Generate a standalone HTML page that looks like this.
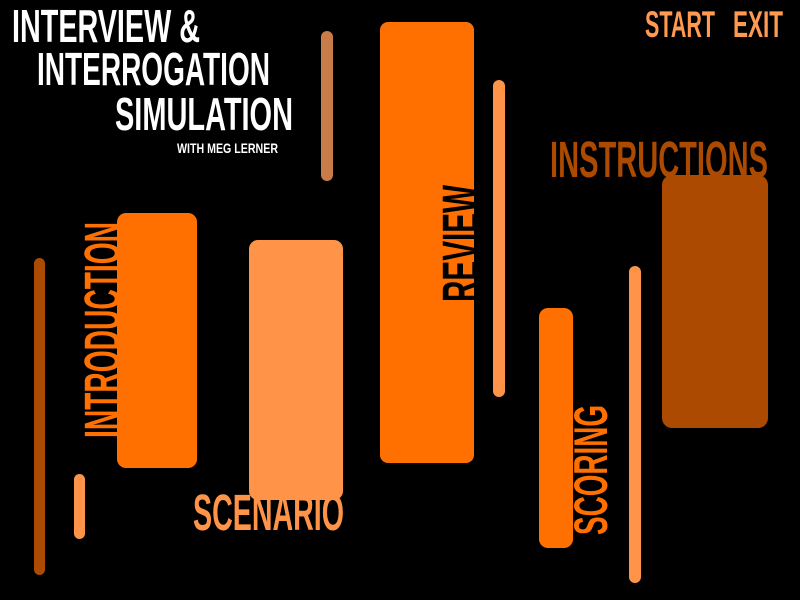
<!DOCTYPE html>
<html><head><meta charset="utf-8"><style>
html,body{margin:0;padding:0;background:#000;width:800px;height:600px;overflow:hidden}
svg{display:block}
text{font-family:"Liberation Sans Narrow","Liberation Sans",sans-serif;}
</style></head><body>
<svg width="800" height="600" viewBox="0 0 800 600" xmlns="http://www.w3.org/2000/svg">
<rect width="800" height="600" fill="#000"/>
<!-- bars -->
<rect x="321" y="31" width="12" height="150" rx="6" fill="#c87c4a"/>
<rect x="493" y="80" width="12" height="317" rx="6" fill="#ff9448"/>
<rect x="34" y="258" width="11" height="317" rx="5.5" fill="#ab4a00"/>
<rect x="74" y="474" width="11" height="65" rx="5.5" fill="#ff9448"/>
<rect x="629" y="266" width="12" height="317" rx="6" fill="#ff9448"/>
<!-- boxes -->
<rect x="380" y="22" width="94" height="441" rx="8" fill="#ff7000"/>
<rect x="662" y="175" width="106" height="253" rx="10" fill="#ab4a00"/>
<rect x="117" y="213" width="80" height="255" rx="9" fill="#ff7000"/>
<rect x="249" y="240" width="94" height="260" rx="9" fill="#ff9448"/>
<rect x="539" y="308" width="34" height="240" rx="9" fill="#ff7000"/>
<!-- title -->
<g fill="#fff" font-weight="bold">
<text x="12" y="42" font-size="46" textLength="188" lengthAdjust="spacingAndGlyphs">INTERVIEW &amp;</text>
<text x="37" y="85" font-size="46" textLength="233" lengthAdjust="spacingAndGlyphs">INTERROGATION</text>
<text x="115" y="130" font-size="46" textLength="178" lengthAdjust="spacingAndGlyphs">SIMULATION</text>
<text x="177" y="153" font-size="14" textLength="101" lengthAdjust="spacingAndGlyphs">WITH MEG LERNER</text>
</g>
<g font-weight="bold">
<text x="645" y="37" font-size="37" fill="#ff9a50" textLength="70" lengthAdjust="spacingAndGlyphs">START</text>
<text x="733" y="37" font-size="37" fill="#ff9a50" textLength="50" lengthAdjust="spacingAndGlyphs">EXIT</text>
<text x="550" y="177" font-size="51" fill="#ab4a00" textLength="218" lengthAdjust="spacingAndGlyphs">INSTRUCTIONS</text>
<text x="193" y="530" font-size="51" fill="#ff9448" textLength="151" lengthAdjust="spacingAndGlyphs">SCENARIO</text>
<text transform="translate(120,438) rotate(-90)" font-size="51" fill="#ff7000" textLength="216" lengthAdjust="spacingAndGlyphs">INTRODUCTION</text>
<text transform="translate(478,302) rotate(-90)" font-size="51" fill="#000" textLength="117" lengthAdjust="spacingAndGlyphs">REVIEW</text>
<text transform="translate(607,535) rotate(-90)" font-size="47" fill="#ff7000" textLength="130" lengthAdjust="spacingAndGlyphs">SCORING</text>
</g>
</svg>
</body></html>
